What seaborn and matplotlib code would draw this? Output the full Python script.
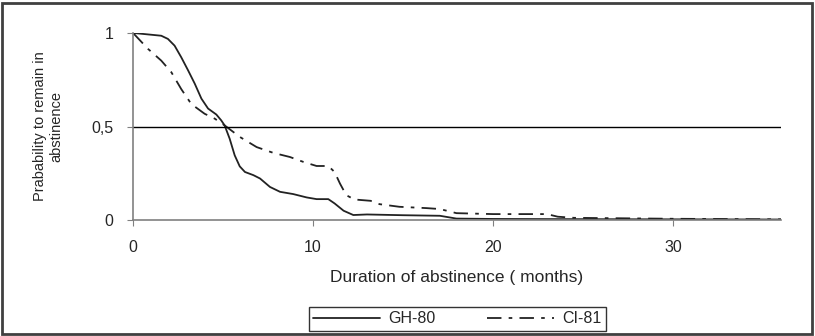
import pandas as pd
import matplotlib
matplotlib.use("Agg")
import matplotlib.pyplot as plt
import seaborn as sns
from matplotlib.patches import Rectangle

# Survival-like curves
gh_months = [0, 1.57, 1.94, 2.31, 2.68, 3.06, 3.43, 3.8, 4.17, 4.63, 4.9,
             5.09, 5.37, 5.65, 5.93, 6.22, 6.69, 7.06, 7.61, 8.17, 8.9, 9.65,
             10.2, 10.85, 11.2, 11.7, 12.24, 13, 15, 17.05, 17.97, 20, 24,
             30, 36]
gh_prob = [1, 0.985, 0.968, 0.932, 0.87, 0.80, 0.729, 0.649, 0.596, 0.564,
           0.533, 0.506, 0.435, 0.346, 0.287, 0.257, 0.24, 0.222, 0.177,
           0.151, 0.139, 0.121, 0.112, 0.112, 0.089, 0.05, 0.027, 0.03,
           0.026, 0.023, 0.008, 0.006, 0.005, 0.004, 0.003]

ci_months = [0, 0.83, 1.57, 2.13, 2.68, 3.24, 3.98, 4.54, 5.09, 5.94, 6.87,
             7.8, 8.72, 9.46, 10.2, 10.85, 11.2, 11.5, 11.85, 12.3, 13.2,
             13.7, 14.8, 16.3, 17.05, 17.97, 20, 23, 23.6, 24.5, 30, 36]
ci_prob = [1, 0.915, 0.852, 0.79, 0.70, 0.62, 0.568, 0.542, 0.506, 0.444,
           0.39, 0.359, 0.337, 0.311, 0.289, 0.289, 0.257, 0.195, 0.133,
           0.11, 0.103, 0.085, 0.071, 0.064, 0.059, 0.037, 0.032, 0.032,
           0.018, 0.012, 0.007, 0.004]

groups = ["GH-80", "CI-81"]
x_ticks = [0, 10, 20, 30]
y_ticks = [0, 0.5, 1]
y_ticklabels = ["0", "0,5", "1"]

df = pd.concat([
    pd.DataFrame({"month": gh_months, "prob": gh_prob, "group": groups[0]}),
    pd.DataFrame({"month": ci_months, "prob": ci_prob, "group": groups[1]}),
])

sns.set_style("white")
plt.rcParams["font.family"] = ["Liberation Sans", "DejaVu Sans"]

fig = plt.figure(figsize=(8.15, 3.36), dpi=100)
ax = fig.add_axes([0.1632, 0.345, 0.795, 0.557])

sns.lineplot(data=df, x="month", y="prob", hue="group", style="group",
             palette=["#222222", "#222222"],
             dashes={"GH-80": "", "CI-81": (8, 4, 2, 4)},
             linewidth=1.3, ax=ax)

ax.axhline(0.5, color="black", linewidth=1)

ax.set_xlim(0, 36)
ax.set_ylim(0, 1)
ax.set_xticks(x_ticks)
ax.set_yticks(y_ticks)
ax.set_yticklabels(y_ticklabels)
ax.tick_params(axis="both", labelsize=11.5, length=4, color="#808080",
               direction="out", bottom=True, left=True, pad=10)
for s in ["top", "right"]:
    ax.spines[s].set_visible(False)
for s in ["left", "bottom"]:
    ax.spines[s].set_color("#808080")
    ax.spines[s].set_linewidth(1.2)

ax.set_xlabel("Duration of abstinence ( months)", fontsize=12.5, labelpad=11)
ax.set_ylabel("Prabability to remain in\nabstinence", fontsize=10.5, labelpad=20)

handles, labels = ax.get_legend_handles_labels()
ax.legend_.remove()
leg = fig.legend(handles, labels, loc="center", bbox_to_anchor=(0.561, 0.0506),
                 ncol=2, frameon=True, fancybox=False, fontsize=11.5,
                 handlelength=4.2, columnspacing=3.2, borderpad=0.3,
                 handletextpad=0.5)
leg.get_frame().set_edgecolor("black")
leg.get_frame().set_linewidth(1)

# outer frame around the whole figure
fig.patches.append(Rectangle((0.003, 0.006), 0.993, 0.984, transform=fig.transFigure,
                             fill=False, edgecolor="#404040", linewidth=2))

fig.savefig("out.png", dpi=100)
